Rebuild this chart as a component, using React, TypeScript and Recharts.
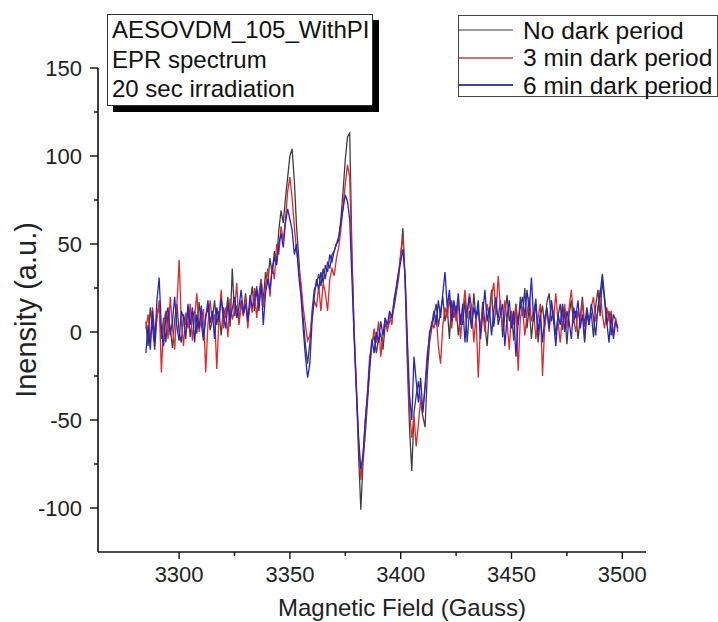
import React from 'react';
import { LineChart, Line, XAxis, YAxis, Legend, Label } from 'recharts';

const font = '"Liberation Sans", Arial, sans-serif';

// magnetic field (Gauss)
const field = [
  3285, 3286, 3287, 3288, 3289, 3290, 3291, 3292, 3293, 3294,
  3295, 3296, 3297, 3298, 3299, 3300, 3301, 3302, 3303, 3304,
  3305, 3306, 3307, 3308, 3309, 3310, 3311, 3312, 3313, 3314,
  3315, 3316, 3317, 3318, 3319, 3320, 3321, 3322, 3323, 3324,
  3325, 3326, 3327, 3328, 3329, 3330, 3331, 3332, 3333, 3334,
  3335, 3336, 3337, 3338, 3339, 3340, 3341, 3342, 3343, 3344,
  3345, 3346, 3347, 3348, 3349, 3350, 3351, 3352, 3353, 3354,
  3355, 3356, 3357, 3358, 3359, 3360, 3361, 3362, 3363, 3364,
  3365, 3366, 3367, 3368, 3369, 3370, 3371, 3372, 3373, 3374,
  3375, 3376, 3377, 3378, 3379, 3380, 3381, 3382, 3383, 3384,
  3385, 3386, 3387, 3388, 3389, 3390, 3391, 3392, 3393, 3394,
  3395, 3396, 3397, 3398, 3399, 3400, 3401, 3402, 3403, 3404,
  3405, 3406, 3407, 3408, 3409, 3410, 3411, 3412, 3413, 3414,
  3415, 3416, 3417, 3418, 3419, 3420, 3421, 3422, 3423, 3424,
  3425, 3426, 3427, 3428, 3429, 3430, 3431, 3432, 3433, 3434,
  3435, 3436, 3437, 3438, 3439, 3440, 3441, 3442, 3443, 3444,
  3445, 3446, 3447, 3448, 3449, 3450, 3451, 3452, 3453, 3454,
  3455, 3456, 3457, 3458, 3459, 3460, 3461, 3462, 3463, 3464,
  3465, 3466, 3467, 3468, 3469, 3470, 3471, 3472, 3473, 3474,
  3475, 3476, 3477, 3478, 3479, 3480, 3481, 3482, 3483, 3484,
  3485, 3486, 3487, 3488, 3489, 3490, 3491, 3492, 3493, 3494,
  3495, 3496, 3497, 3498,
];

const noDark = [
  6, -8, 14, 3, -10, 9, 15, -4, 8, -6,
  11, 2, -9, 7, 16, 0, -6, 10, 4, 13,
  -3, 8, 12, -1, 17, 5, -5, 9, 14, 1,
  7, 18, 4, 12, -2, 14, 8, 20, 3, 36,
  9, 15, 5, 18, 11, 22, 7, 16, 26, 12,
  24, 14, 30, 18, 34, 27, 42, 33, 46, 40,
  58, 69, 62, 76, 88, 100, 104, 86, 60, 42,
  24, 8, -7, -18, -6, 12, 24, 27, 33, 26,
  36, 30, 40, 36, 44, 46, 50, 52, 64, 80,
  98, 111, 113, 45, 0, -32, -70, -101, -74, -58,
  -40, -22, -6, -2, -12, -4, -1, -10, 4, 2,
  6, 9, 14, 22, 30, 43, 59, 28, -18, -55,
  -79, -46, -36, -28, -40, -48, -54, -24, -6, 2,
  9, 16, 3, 12, 20, 6, 14, -4, 18, 8,
  15, -2, 10, 4, 19, -6, 12, 2, 22, 7,
  13, 0, 17, 5, -8, 11, 24, 3, 14, 8,
  18, -3, 10, 21, 6, 12, -5, 16, 4, 20,
  9, 25, 2, 14, -4, 11, 19, -6, 8, 15,
  3, 17, 22, 6, 12, -2, 9, 16, 1, 13,
  -7, 10, 18, 5, 12, -4, 8, 20, 3, 14,
  6, 11, -3, 15, 24, 9, 30, 18, 4, 12,
  -2, 10, 7, 2,
];

const min3 = [
  2, 10, -6, 14, -2, 8, 18, -23, 5, 12,
  -4, 20, 3, -10, 15, 41, 6, -8, 11, 2,
  16, -5, 9, 22, 0, 7, 13, -23, 4, 18,
  6, 10, -21, 8, 24, 2, 14, -3, 19, 7,
  12, 28, 4, 16, 9, 20, 2, 17, 11, 25,
  8, 22, 30, 14, 26, 36, 20, 38, 30, 50,
  44, 60, 52, 64, 80, 88, 76, 60, 46, 36,
  28, 14, 4, -5, -2, 8, 18, 14, 26, 12,
  28, 22, 12, 30, 36, 32, 42, 48, 58, 72,
  84, 95, 88, 40, 0, -30, -62, -84, -70, -52,
  -34, -14, -8, 2, -6, 6, -14, -2, 8, 0,
  10, 4, 18, 24, 33, 45, 54, 30, -10, -45,
  -60, -48, -65, -52, -38, -44, -30, -12, -4, 6,
  2, 10, -8, -18, 4, 14, 8, 20, 2, 16,
  6, 18, -4, 12, 24, 8, 22, 14, -6, 10,
  -26, 4, 12, 0, 16, 8, 20, 28, 10, 32,
  14, 2, 18, 6, -10, 12, 4, 16, -22, 8,
  14, -2, 10, 20, 6, 12, -4, 8, 16, -25,
  4, 12, 0, 18, 8, 22, 6, -6, 10, 16,
  2, 14, 24, 8, 0, 12, 6, 18, -4, 10,
  4, 14, 20, 6, 12, 24, 10, 2, 14, 6,
  12, -2, 8, 0,
];

const min6 = [
  -12, 4, -10, 12, -6, 18, 31, 2, -8, 9,
  14, -2, 6, 20, 3, -5, 12, 8, -4, 16,
  4, 14, -6, 10, 2, 15, -3, 8, 18, 5,
  12, -4, 14, 6, 19, 9, 2, 16, 7, 13,
  20, 8, 14, 24, 10, 16, 6, 21, 14, 18,
  26, 12, 28, 4, 22, 30, 24, 36, 42, 38,
  50, 56, 48, 62, 70, 64, 58, 44, 50, 32,
  20, 2, -14, -26, -18, 6, 20, 30, 24, 34,
  28, 38, 34, 44, 40, 46, 50, 54, 62, 70,
  78, 74, 64, 30, -4, -34, -60, -78, -70, -50,
  -36, -18, -4, -12, 0, -6, 6, -2, 8, 4,
  12, 8, 18, 26, 34, 40, 47, 32, -4, -36,
  -50, -14, -28, -40, -26, -46, -32, -16, 0, 4,
  12, 4, 18, 8, 22, 34, 14, 24, 6, 18,
  10, 22, 4, 16, -6, 12, 20, 2, 14, 8,
  18, -4, 10, 24, 6, 14, -2, 12, 20, 4,
  10, 16, -8, 8, 18, 2, 12, -14, 6, 14,
  20, 8, 24, 12, 31, 6, 16, 0, 10, -6,
  8, 14, 2, 18, 6, -8, 10, 4, 16, 0,
  12, 6, -4, 14, 8, 18, 2, 10, -6, 12,
  4, 16, 8, -2, 14, 22, 33, 20, 6, -6,
  10, -4, 6, 2,
];

const seriesNames = ['No dark period', '3 min dark period', '6 min dark period'];
const seriesColors = ['#3e3e3e', '#e02828', '#2424cc'];
const legendColors = ['#9a9a9a', '#e06a6a', '#4040b0'];
const xTicks = [3300, 3325, 3350, 3375, 3400, 3425, 3450, 3475, 3500];
const yTicks = [-100, -75, -50, -25, 0, 25, 50, 75, 100, 125, 150];

const rows = field.map((f, i) => ({ field: f, noDark: noDark[i], min3: min3[i], min6: min6[i] }));

const XTick = (props: any) => {
  const { x, y, payload } = props;
  const major = payload.value % 50 === 0;
  return (
    <g>
      <line x1={x} y1={y} x2={x} y2={y + (major ? 7 : 4)} stroke="#111" strokeWidth={1.4} />
      {major && (
        <text x={x} y={y + 30} textAnchor="middle" fontSize={22} fontFamily={font} fill="#222">
          {payload.value}
        </text>
      )}
    </g>
  );
};

const YTick = (props: any) => {
  const { x, y, payload } = props;
  const major = payload.value % 50 === 0;
  return (
    <g>
      <line x1={x - (major ? 8 : 4)} y1={y} x2={x} y2={y} stroke="#111" strokeWidth={1.4} />
      {major && (
        <text x={x - 16} y={y + 8} textAnchor="end" fontSize={22} fontFamily={font} fill="#222">
          {payload.value}
        </text>
      )}
    </g>
  );
};

const XTitle = ({ viewBox }: any) => (
  <text x={viewBox.x + viewBox.width / 2 + 30} y={viewBox.y + 64} textAnchor="middle" fontSize={24} fontFamily={font} fill="#222">
    Magnetic Field (Gauss)
  </text>
);

const YTitle = ({ viewBox }: any) => {
  const cy = viewBox.y + viewBox.height / 2;
  return (
    <text x={36} y={cy} transform={`rotate(-90, 36, ${cy})`} textAnchor="middle" fontSize={29} fontFamily={font} fill="#222">
      Inensity (a.u.)
    </text>
  );
};

const LegendBox = () => (
  <div style={{ width: 260, height: 82, border: '1px solid #444', background: '#fff', boxSizing: 'border-box', position: 'relative', fontFamily: font, fontSize: 24.5, color: '#111' }}>
    {seriesNames.map((name, i) => (
      <div key={name} style={{ position: 'absolute', left: 0, top: 0.5 + i * 27.5, height: 27.5, display: 'flex', alignItems: 'center', whiteSpace: 'nowrap' }}>
        <span style={{ display: 'inline-block', width: 54, height: 2, background: legendColors[i] }} />
        <span style={{ marginLeft: 10, lineHeight: '27.5px' }}>{name}</span>
      </div>
    ))}
  </div>
);

export default function App() {
  return (
    <div style={{ position: 'absolute', left: 0, top: 0, width: 718, height: 622, background: '#fff' }}>
      <LineChart width={718} height={622} data={rows} margin={{ top: 68, right: 72, bottom: 0, left: 0 }}>
        <XAxis
          dataKey="field"
          type="number"
          domain={[3263.4, 3510.7]}
          ticks={xTicks}
          interval={0}
          tick={<XTick />}
          tickLine={false}
          tickSize={0}
          tickMargin={0}
          height={70}
          axisLine={{ stroke: '#111', strokeWidth: 1.6 }}
          allowDataOverflow
        >
          <Label content={<XTitle />} />
        </XAxis>
        <YAxis
          type="number"
          domain={[-125, 150]}
          ticks={yTicks}
          interval={0}
          tick={<YTick />}
          tickLine={false}
          tickSize={0}
          tickMargin={0}
          width={98}
          axisLine={{ stroke: '#111', strokeWidth: 1.6 }}
          allowDataOverflow
        >
          <Label content={<YTitle />} />
        </YAxis>
        <Legend
          layout="vertical"
          align="center"
          verticalAlign="middle"
          content={<LegendBox />}
          wrapperStyle={{ left: 458, top: 15, width: 260, height: 82 }}
        />
        <Line type="linear" dataKey="noDark" name={seriesNames[0]} stroke={seriesColors[0]} strokeWidth={1.3} dot={false} isAnimationActive={false} />
        <Line type="linear" dataKey="min3" name={seriesNames[1]} stroke={seriesColors[1]} strokeWidth={1.3} dot={false} isAnimationActive={false} />
        <Line type="linear" dataKey="min6" name={seriesNames[2]} stroke={seriesColors[2]} strokeWidth={1.3} dot={false} isAnimationActive={false} />
      </LineChart>
      <div
        style={{
          position: 'absolute',
          left: 107,
          top: 14,
          width: 266,
          height: 92,
          boxSizing: 'border-box',
          border: '1px solid #333',
          background: '#fff',
          boxShadow: '6px 6px 0 #000',
          fontFamily: font,
          fontSize: 24,
          lineHeight: '29.7px',
          color: '#111',
          paddingLeft: 4,
          whiteSpace: 'nowrap',
          overflow: 'visible',
        }}
      >
        <div>AESOVDM_105_WithPI</div>
        <div>EPR spectrum</div>
        <div>20 sec irradiation</div>
      </div>
    </div>
  );
}
